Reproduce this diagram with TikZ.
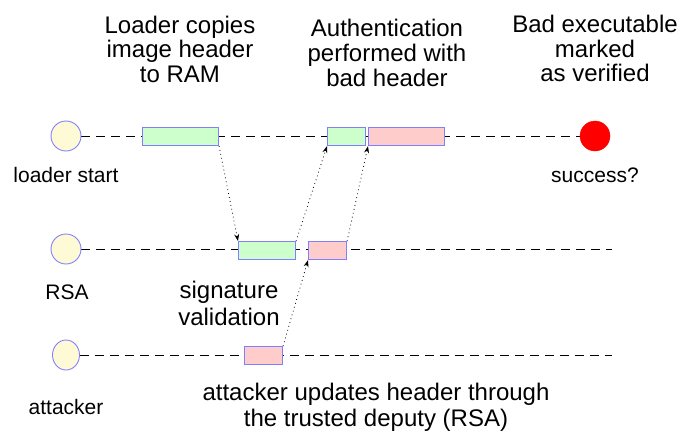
\documentclass[tikz,border=0pt]{standalone}
\usepackage{fontspec}
\setmainfont{Liberation Sans}
\usetikzlibrary{arrows.meta,backgrounds,shapes.geometric}
\definecolor{bord}{RGB}{128,128,255}
\definecolor{gfill}{RGB}{204,255,204}
\definecolor{rfill}{RGB}{255,204,204}
\definecolor{yfill}{RGB}{255,250,214}
\begin{document}
\begin{tikzpicture}[x=1pt,y=-1pt,
  big/.style={font=\fontsize{24}{24.5}\selectfont, align=center, inner sep=0pt, anchor=north},
  lbl/.style={font=\fontsize{21}{23}\selectfont, inner sep=0pt, anchor=base},
  actor/.style={circle, draw=bord, fill=yfill, line width=0.9pt, minimum size=30pt, inner sep=0pt},
  gbox/.style={draw=bord, fill=gfill, line width=1.1pt, inner sep=0pt, anchor=north west, minimum height=18pt},
  rbox/.style={draw=bord, fill=rfill, line width=1.1pt, inner sep=0pt, anchor=north west, minimum height=18pt},
  life/.style={draw=black, line width=1pt, dash pattern=on 9pt off 6pt},
  msg/.style={draw=black, line width=0.8pt, dash pattern=on 0.8pt off 3.2pt, -{Stealth[length=7pt,width=5pt]}}]
\useasboundingbox (0,0) rectangle (693,432);
% actors
\node[actor] (start) at (66,136) {};
\node[actor] (rsa) at (66,249) {};
\node[actor, ellipse, minimum width=27pt, minimum height=30pt] (att) at (66,355) {};
\node[circle, fill=red, draw=red, minimum size=30pt, inner sep=0pt] (succ) at (595,136) {};
\coordinate (rsaend) at (612,249);
\coordinate (attend) at (612,355);
% boxes
\node[gbox, minimum width=76pt] (A) at (142,127) {};
\node[gbox, minimum width=38pt] (B) at (327,127) {};
\node[rbox, minimum width=76pt] (C) at (368,127) {};
\node[gbox, minimum width=57pt] (D) at (238,241) {};
\node[rbox, minimum width=38pt] (E) at (308,241) {};
\node[rbox, minimum width=38pt] (F) at (244,346) {};
% lifelines
\begin{scope}[on background layer]
\draw[life] (start) -- (succ);
\draw[life] (rsa) -- (rsaend);
\draw[life] (att) -- (attend);
\end{scope}
% messages
\draw[msg] (A.south east) -- (D.north west);
\draw[msg] (D.north east) -- (B.south west);
\draw[msg] (F.north east) -- (E.south west);
\draw[msg] (E.north east) -- (C.south west);
% labels
\node[lbl] (lstart) at (66,182) {loader start};
\node[lbl] (lsucc) at (595,182) {success?};
\node[lbl] (lrsa) at (67,299) {RSA};
\node[lbl] (latt) at (66,414) {attacker};
\node[big] (t1) at (180,15.5) {Loader copies\\image header\\to RAM};
\node[big, font=\fontsize{24}{25}\selectfont] (t2) at (387,19) {Authentication\\performed with\\bad header};
\node[big] (t3) at (595,15) {Bad executable\\marked\\as verified};
\node[big, font=\fontsize{24}{27}\selectfont] (t4) at (229,281) {signature\\validation};
\node[big, font=\fontsize{24}{26}\selectfont] (t5) at (376,383) {attacker updates header through\\the trusted deputy (RSA)};
\end{tikzpicture}
\end{document}
